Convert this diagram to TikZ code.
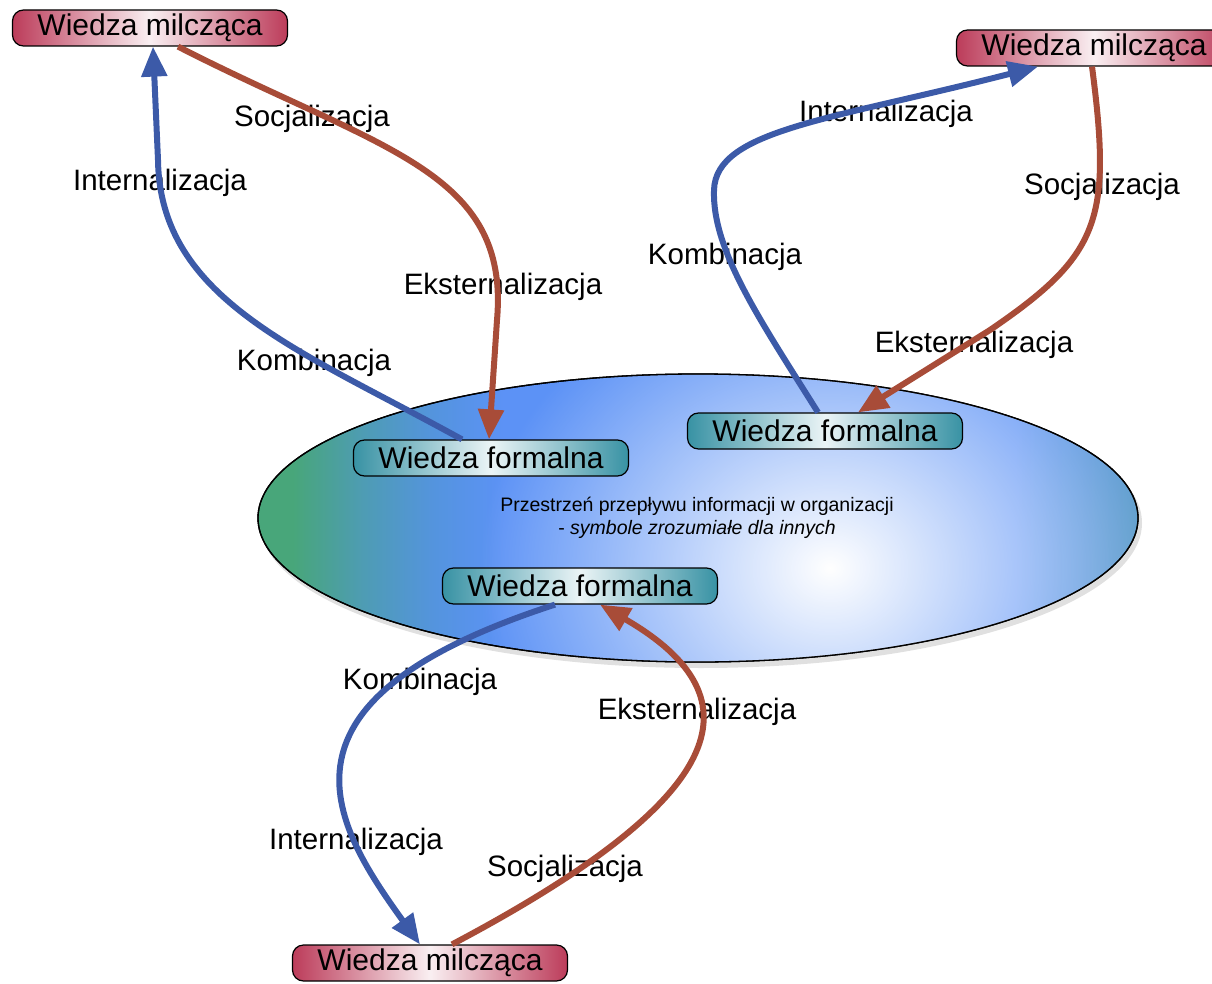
\documentclass[tikz,border=0pt]{standalone}
\usepackage{fontspec}
\setmainfont{Liberation Sans}
\usetikzlibrary{arrows.meta,fadings}

\definecolor{flowblue}{RGB}{60,90,168}
\definecolor{flowred}{RGB}{168,76,56}
\definecolor{tacitred}{RGB}{188,60,90}
\definecolor{formalteal}{RGB}{56,146,164}
\definecolor{spgreen}{RGB}{72,166,122}
\definecolor{spteal}{RGB}{78,156,180}
\definecolor{spmid}{RGB}{84,148,222}
\definecolor{spblue}{RGB}{92,146,246}
\definecolor{spedge}{RGB}{82,150,200}

% left-to-right colouring of the organisation space
% (the path's extent corresponds to 25bp..75bp of the shading)
\pgfdeclarehorizontalshading{orgspace}{100bp}{%
  color(0bp)=(spgreen); color(25bp)=(spgreen); color(27bp)=(spgreen);
  color(31bp)=(spteal); color(35bp)=(spmid); color(39bp)=(spblue);
  color(68bp)=(spblue); color(75bp)=(spedge); color(100bp)=(spedge)}

% soft white glow in the middle of the space
\tikzfading[name=glowfade, inner color=transparent!0, outer color=transparent!100]

\tikzset{
  tacit/.style={draw=black, line width=1.2pt, rounded corners=11pt,
    minimum width=275pt, minimum height=36pt, inner sep=0pt,
    left color=tacitred, right color=tacitred, middle color=white!92!tacitred,
    font=\fontsize{30}{31}\selectfont},
  formal/.style={draw=black, line width=1.2pt, rounded corners=11pt,
    minimum width=275pt, minimum height=36pt, inner sep=0pt,
    left color=formalteal, right color=formalteal, middle color=white!90!formalteal,
    font=\fontsize{30}{31}\selectfont},
  lab/.style={inner sep=0pt, font=\fontsize{29.5}{30}\selectfont},
  flow/.style={line width=6pt, -{Triangle[length=30pt,width=25pt]}},
}

\begin{document}
\begin{tikzpicture}[x=1pt,y=-1pt]
\useasboundingbox (0,0) rectangle (1212,984);

% organisation space
\fill[black, opacity=0.12] (701,523) ellipse [x radius=441, y radius=145];
\draw[line width=1.3pt, shading=orgspace] (698,518) ellipse [x radius=440, y radius=144];
\begin{scope}
  \clip (698,518) ellipse [x radius=440, y radius=144];
  \fill[white, path fading=glowfade] (830,568) ellipse [x radius=350, y radius=300];
\end{scope}
\draw[line width=1.3pt] (698,518) ellipse [x radius=440, y radius=144];

\node[align=center, inner sep=0pt, font=\fontsize{19.5}{23}\selectfont] (space) at (697,518)
  {Przestrzeń przepływu informacji w organizacji\\ - \textit{symbole zrozumiałe dla innych}};

% knowledge boxes
\node[tacit] (m1) at (150,28) {Wiedza milcząca};
\node[tacit] (m2) at (1094,48) {Wiedza milcząca};
\node[tacit] (m3) at (430,963) {Wiedza milcząca};
\node[formal] (f1) at (491,458) {Wiedza formalna};
\node[formal] (f2) at (825,431) {Wiedza formalna};
\node[formal] (f3) at (580,586) {Wiedza formalna};

% conversion labels
\node[lab] (s1) at (312,119) {Socjalizacja};
\node[lab] (i1) at (160,183) {Internalizacja};
\node[lab] (e1) at (503,287) {Eksternalizacja};
\node[lab] (k1) at (314,363) {Kombinacja};
\node[lab] (i2) at (886,114) {Internalizacja};
\node[lab] (s2) at (1102,187) {Socjalizacja};
\node[lab] (k2) at (725,257) {Kombinacja};
\node[lab] (e2) at (974,345) {Eksternalizacja};
\node[lab] (k3) at (420,682) {Kombinacja};
\node[lab] (e3) at (697,712) {Eksternalizacja};
\node[lab] (i3) at (356,842) {Internalizacja};
\node[lab] (s3) at (565,869) {Socjalizacja};

% upper left cycle
\draw[flow, flowblue] ([xshift=-29pt]f1.north) .. controls (300,350) and (160,300) .. (158,160) -- ([xshift=3pt]m1.south);
\draw[flow, flowred] ([xshift=28pt]m1.south) .. controls (380,150) and (510,170) .. (497,320) -- ([xshift=-2pt]f1.north);

% upper right cycle
\draw[flow, flowblue] ([xshift=-7pt]f2.north) .. controls (760,320) and (712,250) .. (714,190)
  .. controls (716,130) and (830,120) .. ([xshift=-56pt]m2.south);
\draw[flow, flowred] ([xshift=-2pt]m2.south) .. controls (1112,220) and (1100,255) .. (990,330) -- ([xshift=33pt]f2.north);

% lower cycle
\draw[flow, flowblue] ([xshift=-25pt]f3.south) .. controls (260,700) and (330,820) .. ([xshift=-10pt]m3.north);
\draw[flow, flowred] ([xshift=22pt]m3.north) .. controls (725,800) and (765,700) .. ([xshift=20pt]f3.south);
\end{tikzpicture}
\end{document}
